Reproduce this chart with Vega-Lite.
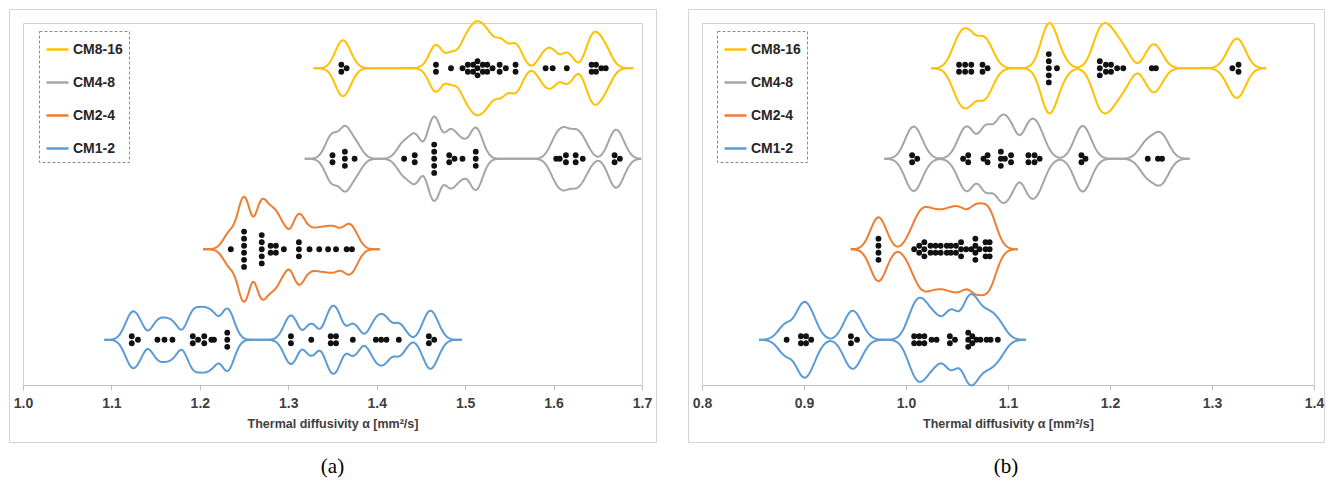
{
  "$schema": "https://vega.github.io/schema/vega-lite/v6.json",
  "padding": {"left": 8, "top": 8, "right": 0, "bottom": 0},
  "background": "white",
  "spacing": 30,
  "config": {
    "view": {"stroke": "#d4d4d4", "strokeWidth": 1},
    "font": "Liberation Sans",
    "legend": {"strokeDash": [3, 2], "strokeWidth": 1}
  },
  "resolve": {"scale": {"color": "independent", "yOffset": "independent", "x": "independent", "y": "independent"}, "legend": {"color": "independent"}},
  "hconcat": [
    {
      "width": 647,
      "height": 433,
      "title": {"text": "(a)", "orient": "bottom", "font": "Liberation Serif", "fontSize": 21, "fontWeight": "normal", "color": "#000000", "offset": 14},
      "data": {"values": [
        {"g":"CM8-16","v":1.360},{"g":"CM8-16","v":1.360},{"g":"CM8-16","v":1.366},
        {"g":"CM8-16","v":1.467},{"g":"CM8-16","v":1.467},{"g":"CM8-16","v":1.484},{"g":"CM8-16","v":1.497},{"g":"CM8-16","v":1.503},{"g":"CM8-16","v":1.503},{"g":"CM8-16","v":1.509},{"g":"CM8-16","v":1.509},{"g":"CM8-16","v":1.514},{"g":"CM8-16","v":1.514},{"g":"CM8-16","v":1.514},{"g":"CM8-16","v":1.520},{"g":"CM8-16","v":1.520},{"g":"CM8-16","v":1.525},{"g":"CM8-16","v":1.525},{"g":"CM8-16","v":1.531},{"g":"CM8-16","v":1.539},{"g":"CM8-16","v":1.539},{"g":"CM8-16","v":1.546},{"g":"CM8-16","v":1.557},{"g":"CM8-16","v":1.557},
        {"g":"CM8-16","v":1.591},{"g":"CM8-16","v":1.599},{"g":"CM8-16","v":1.615},
        {"g":"CM8-16","v":1.643},{"g":"CM8-16","v":1.643},{"g":"CM8-16","v":1.648},{"g":"CM8-16","v":1.648},{"g":"CM8-16","v":1.654},{"g":"CM8-16","v":1.659},
        {"g":"CM4-8","v":1.350},{"g":"CM4-8","v":1.350},{"g":"CM4-8","v":1.364},{"g":"CM4-8","v":1.364},{"g":"CM4-8","v":1.364},{"g":"CM4-8","v":1.375},
        {"g":"CM4-8","v":1.431},{"g":"CM4-8","v":1.443},{"g":"CM4-8","v":1.443},{"g":"CM4-8","v":1.465},{"g":"CM4-8","v":1.465},{"g":"CM4-8","v":1.465},{"g":"CM4-8","v":1.465},{"g":"CM4-8","v":1.465},{"g":"CM4-8","v":1.482},{"g":"CM4-8","v":1.482},{"g":"CM4-8","v":1.488},{"g":"CM4-8","v":1.497},{"g":"CM4-8","v":1.512},{"g":"CM4-8","v":1.512},{"g":"CM4-8","v":1.512},
        {"g":"CM4-8","v":1.603},{"g":"CM4-8","v":1.607},{"g":"CM4-8","v":1.614},{"g":"CM4-8","v":1.614},{"g":"CM4-8","v":1.625},{"g":"CM4-8","v":1.625},{"g":"CM4-8","v":1.633},
        {"g":"CM4-8","v":1.669},{"g":"CM4-8","v":1.669},{"g":"CM4-8","v":1.675},
        {"g":"CM2-4","v":1.235},{"g":"CM2-4","v":1.250},{"g":"CM2-4","v":1.250},{"g":"CM2-4","v":1.250},{"g":"CM2-4","v":1.250},{"g":"CM2-4","v":1.250},{"g":"CM2-4","v":1.250},
        {"g":"CM2-4","v":1.270},{"g":"CM2-4","v":1.270},{"g":"CM2-4","v":1.270},{"g":"CM2-4","v":1.270},{"g":"CM2-4","v":1.270},{"g":"CM2-4","v":1.280},{"g":"CM2-4","v":1.280},{"g":"CM2-4","v":1.286},{"g":"CM2-4","v":1.286},{"g":"CM2-4","v":1.295},
        {"g":"CM2-4","v":1.312},{"g":"CM2-4","v":1.312},{"g":"CM2-4","v":1.312},{"g":"CM2-4","v":1.324},{"g":"CM2-4","v":1.335},{"g":"CM2-4","v":1.345},{"g":"CM2-4","v":1.354},{"g":"CM2-4","v":1.366},{"g":"CM2-4","v":1.372},
        {"g":"CM1-2","v":1.123},{"g":"CM1-2","v":1.123},{"g":"CM1-2","v":1.130},{"g":"CM1-2","v":1.152},{"g":"CM1-2","v":1.160},{"g":"CM1-2","v":1.169},
        {"g":"CM1-2","v":1.192},{"g":"CM1-2","v":1.192},{"g":"CM1-2","v":1.198},{"g":"CM1-2","v":1.205},{"g":"CM1-2","v":1.205},{"g":"CM1-2","v":1.213},{"g":"CM1-2","v":1.216},{"g":"CM1-2","v":1.231},{"g":"CM1-2","v":1.231},{"g":"CM1-2","v":1.231},
        {"g":"CM1-2","v":1.303},{"g":"CM1-2","v":1.303},{"g":"CM1-2","v":1.326},{"g":"CM1-2","v":1.348},{"g":"CM1-2","v":1.348},{"g":"CM1-2","v":1.354},{"g":"CM1-2","v":1.354},{"g":"CM1-2","v":1.373},
        {"g":"CM1-2","v":1.399},{"g":"CM1-2","v":1.405},{"g":"CM1-2","v":1.411},{"g":"CM1-2","v":1.425},
        {"g":"CM1-2","v":1.459},{"g":"CM1-2","v":1.459},{"g":"CM1-2","v":1.465}
      ]},
      "resolve": {"scale": {"yOffset": "independent"}, "axis": {"x": "independent", "y": "independent"}},
      "layer": [
        {
          "transform": [
            {"joinaggregate": [{"op": "min", "field": "v", "as": "lo"}, {"op": "max", "field": "v", "as": "hi"}], "groupby": ["g"]},
            {"density": "v", "groupby": ["g", "lo", "hi"], "bandwidth": 0.006, "extent": [0.98, 1.72], "steps": 741},
            {"filter": "datum.value >= datum.lo - 0.032 && datum.value <= datum.hi + 0.032 && datum.value <= 1.7"}
          ],
          "mark": {"type": "line", "strokeWidth": 2},
          "encoding": {
            "x": {"field": "value", "type": "quantitative",
              "scale": {"domain": [1.0, 1.7], "range": [14, 633], "nice": false, "zero": false},
              "axis": {"orient": "bottom", "offset": -57, "values": [1.0, 1.1, 1.2, 1.3, 1.4, 1.5, 1.6, 1.7], "format": ".1f",
                "domainColor": "#bfbfbf", "tickColor": "#bfbfbf", "tickSize": 5, "grid": false,
                "labelFont": "Liberation Sans", "labelFontSize": 14, "labelFontWeight": "bold", "labelColor": "#404040", "labelPadding": 6, "labelOverlap": false, "labelFlush": false,
                "title": "Thermal diffusivity α [mm²/s]", "titleFont": "Liberation Sans", "titleFontSize": 12.5, "titleFontWeight": "bold", "titleColor": "#404040", "titlePadding": 7}},
            "y": {"field": "g", "type": "nominal",
              "scale": {"type": "band", "domain": ["CM8-16", "CM4-8", "CM2-4", "CM1-2"], "range": [14, 376], "paddingInner": 0, "paddingOuter": 0},
              "axis": {"orient": "left", "offset": -14, "labels": false, "ticks": false, "title": null, "grid": false, "domainColor": "#d0d0d0"}},
            "yOffset": {"field": "density", "type": "quantitative", "scale": {"type": "pow", "exponent": 0.6, "domain": [-12.1, 12.1], "nice": false, "zero": false}},
            "color": {"field": "g", "type": "nominal",
              "scale": {"domain": ["CM8-16", "CM4-8", "CM2-4", "CM1-2"], "range": ["#FFC000", "#A5A5A5", "#ED7D31", "#5B9BD5"]},
              "legend": {"title": null, "orient": "none", "legendX": 30, "legendY": 22, "symbolType": "stroke", "symbolStrokeWidth": 2.5, "symbolSize": 484,
                "labelFont": "Liberation Sans", "labelFontSize": 14, "labelFontWeight": "bold", "labelColor": "#262626", "labelOffset": 3,
                "rowPadding": 13, "padding": 6, "strokeColor": "#8c8c8c", "fillColor": "white"}},
            "order": {"field": "value", "type": "quantitative"}
          }
        },
        {
          "transform": [
            {"joinaggregate": [{"op": "min", "field": "v", "as": "lo"}, {"op": "max", "field": "v", "as": "hi"}], "groupby": ["g"]},
            {"density": "v", "groupby": ["g", "lo", "hi"], "bandwidth": 0.006, "extent": [0.98, 1.72], "steps": 741},
            {"filter": "datum.value >= datum.lo - 0.032 && datum.value <= datum.hi + 0.032 && datum.value <= 1.7"}
          ],
          "mark": {"type": "line", "strokeWidth": 2},
          "encoding": {
            "x": {"field": "value", "type": "quantitative",
              "axis": {"orient": "top", "offset": -14, "labels": false, "ticks": false, "title": null, "grid": false, "domainColor": "#d0d0d0"}},
            "y": {"field": "g", "type": "nominal",
              "axis": {"orient": "right", "offset": -14, "labels": false, "ticks": false, "title": null, "grid": false, "domainColor": "#d0d0d0"}},
            "yOffset": {"field": "density", "type": "quantitative", "scale": {"type": "pow", "exponent": 0.6, "domain": [-12.1, 12.1], "reverse": true, "nice": false, "zero": false}},
            "color": {"field": "g", "type": "nominal"},
            "order": {"field": "value", "type": "quantitative"}
          }
        },
        {
          "transform": [
            {"window": [{"op": "count", "as": "one"}], "frame": [0, 0]},
            {"stack": "one", "groupby": ["g", "v"], "offset": "center", "as": ["s0", "s1"]}
          ],
          "mark": {"type": "circle", "size": 34, "color": "#111111", "opacity": 1},
          "encoding": {
            "x": {"field": "v", "type": "quantitative", "axis": null},
            "y": {"field": "g", "type": "nominal", "axis": null},
            "yOffset": {"field": "s1", "type": "quantitative", "scale": {"domain": [-2.9, 9.9], "nice": false, "zero": false}}
          }
        }
      ]
    },
    {
      "width": 636,
      "height": 433,
      "title": {"text": "(b)", "orient": "bottom", "font": "Liberation Serif", "fontSize": 21, "fontWeight": "normal", "color": "#000000", "offset": 14},
      "data": {"values": [
        {"g":"CM8-16","v":1.052},{"g":"CM8-16","v":1.052},{"g":"CM8-16","v":1.058},{"g":"CM8-16","v":1.058},{"g":"CM8-16","v":1.064},{"g":"CM8-16","v":1.064},{"g":"CM8-16","v":1.075},{"g":"CM8-16","v":1.075},{"g":"CM8-16","v":1.080},
        {"g":"CM8-16","v":1.140},{"g":"CM8-16","v":1.140},{"g":"CM8-16","v":1.140},{"g":"CM8-16","v":1.140},{"g":"CM8-16","v":1.140},{"g":"CM8-16","v":1.148},
        {"g":"CM8-16","v":1.190},{"g":"CM8-16","v":1.190},{"g":"CM8-16","v":1.190},{"g":"CM8-16","v":1.196},{"g":"CM8-16","v":1.196},{"g":"CM8-16","v":1.201},{"g":"CM8-16","v":1.201},{"g":"CM8-16","v":1.207},{"g":"CM8-16","v":1.213},
        {"g":"CM8-16","v":1.241},{"g":"CM8-16","v":1.245},
        {"g":"CM8-16","v":1.320},{"g":"CM8-16","v":1.326},{"g":"CM8-16","v":1.326},
        {"g":"CM4-8","v":1.006},{"g":"CM4-8","v":1.006},{"g":"CM4-8","v":1.011},
        {"g":"CM4-8","v":1.056},{"g":"CM4-8","v":1.061},{"g":"CM4-8","v":1.061},{"g":"CM4-8","v":1.076},{"g":"CM4-8","v":1.080},{"g":"CM4-8","v":1.080},{"g":"CM4-8","v":1.093},{"g":"CM4-8","v":1.093},{"g":"CM4-8","v":1.093},{"g":"CM4-8","v":1.097},{"g":"CM4-8","v":1.103},{"g":"CM4-8","v":1.103},{"g":"CM4-8","v":1.120},{"g":"CM4-8","v":1.120},{"g":"CM4-8","v":1.126},{"g":"CM4-8","v":1.126},{"g":"CM4-8","v":1.131},
        {"g":"CM4-8","v":1.172},{"g":"CM4-8","v":1.172},{"g":"CM4-8","v":1.176},
        {"g":"CM4-8","v":1.237},{"g":"CM4-8","v":1.247},{"g":"CM4-8","v":1.251},
        {"g":"CM2-4","v":0.973},{"g":"CM2-4","v":0.973},{"g":"CM2-4","v":0.973},{"g":"CM2-4","v":0.973},
        {"g":"CM2-4","v":1.008},{"g":"CM2-4","v":1.013},{"g":"CM2-4","v":1.013},{"g":"CM2-4","v":1.018},{"g":"CM2-4","v":1.018},{"g":"CM2-4","v":1.018},{"g":"CM2-4","v":1.024},{"g":"CM2-4","v":1.024},{"g":"CM2-4","v":1.029},{"g":"CM2-4","v":1.029},{"g":"CM2-4","v":1.034},{"g":"CM2-4","v":1.034},{"g":"CM2-4","v":1.040},{"g":"CM2-4","v":1.040},{"g":"CM2-4","v":1.044},{"g":"CM2-4","v":1.044},{"g":"CM2-4","v":1.049},{"g":"CM2-4","v":1.049},
        {"g":"CM2-4","v":1.054},{"g":"CM2-4","v":1.054},{"g":"CM2-4","v":1.054},{"g":"CM2-4","v":1.059},{"g":"CM2-4","v":1.064},{"g":"CM2-4","v":1.068},{"g":"CM2-4","v":1.068},{"g":"CM2-4","v":1.068},{"g":"CM2-4","v":1.068},{"g":"CM2-4","v":1.072},{"g":"CM2-4","v":1.078},{"g":"CM2-4","v":1.078},{"g":"CM2-4","v":1.078},{"g":"CM2-4","v":1.082},{"g":"CM2-4","v":1.082},{"g":"CM2-4","v":1.082},
        {"g":"CM1-2","v":0.883},{"g":"CM1-2","v":0.897},{"g":"CM1-2","v":0.897},{"g":"CM1-2","v":0.902},{"g":"CM1-2","v":0.902},{"g":"CM1-2","v":0.907},
        {"g":"CM1-2","v":0.946},{"g":"CM1-2","v":0.946},{"g":"CM1-2","v":0.952},
        {"g":"CM1-2","v":1.008},{"g":"CM1-2","v":1.008},{"g":"CM1-2","v":1.013},{"g":"CM1-2","v":1.013},{"g":"CM1-2","v":1.018},{"g":"CM1-2","v":1.018},{"g":"CM1-2","v":1.025},{"g":"CM1-2","v":1.030},{"g":"CM1-2","v":1.043},{"g":"CM1-2","v":1.043},{"g":"CM1-2","v":1.048},
        {"g":"CM1-2","v":1.061},{"g":"CM1-2","v":1.061},{"g":"CM1-2","v":1.061},{"g":"CM1-2","v":1.065},{"g":"CM1-2","v":1.065},{"g":"CM1-2","v":1.069},{"g":"CM1-2","v":1.073},{"g":"CM1-2","v":1.079},{"g":"CM1-2","v":1.083},{"g":"CM1-2","v":1.090}
      ]},
      "resolve": {"scale": {"yOffset": "independent"}, "axis": {"x": "independent", "y": "independent"}},
      "layer": [
        {
          "transform": [
            {"joinaggregate": [{"op": "min", "field": "v", "as": "lo"}, {"op": "max", "field": "v", "as": "hi"}], "groupby": ["g"]},
            {"density": "v", "groupby": ["g", "lo", "hi"], "bandwidth": 0.006, "extent": [0.78, 1.41], "steps": 631},
            {"filter": "datum.value >= datum.lo - 0.028 && datum.value <= datum.hi + 0.028"}
          ],
          "mark": {"type": "line", "strokeWidth": 2},
          "encoding": {
            "x": {"field": "value", "type": "quantitative",
              "scale": {"domain": [0.8, 1.4], "range": [14, 626], "nice": false, "zero": false},
              "axis": {"orient": "bottom", "offset": -57, "values": [0.8, 0.9, 1.0, 1.1, 1.2, 1.3, 1.4], "format": ".1f",
                "domainColor": "#bfbfbf", "tickColor": "#bfbfbf", "tickSize": 5, "grid": false,
                "labelFont": "Liberation Sans", "labelFontSize": 14, "labelFontWeight": "bold", "labelColor": "#404040", "labelPadding": 6, "labelOverlap": false, "labelFlush": false,
                "title": "Thermal diffusivity α [mm²/s]", "titleFont": "Liberation Sans", "titleFontSize": 12.5, "titleFontWeight": "bold", "titleColor": "#404040", "titlePadding": 7}},
            "y": {"field": "g", "type": "nominal",
              "scale": {"type": "band", "domain": ["CM8-16", "CM4-8", "CM2-4", "CM1-2"], "range": [14, 376], "paddingInner": 0, "paddingOuter": 0},
              "axis": {"orient": "left", "offset": -14, "labels": false, "ticks": false, "title": null, "grid": false, "domainColor": "#d0d0d0"}},
            "yOffset": {"field": "density", "type": "quantitative", "scale": {"type": "pow", "exponent": 0.6, "domain": [-12.5, 12.5], "nice": false, "zero": false}},
            "color": {"field": "g", "type": "nominal",
              "scale": {"domain": ["CM8-16", "CM4-8", "CM2-4", "CM1-2"], "range": ["#FFC000", "#A5A5A5", "#ED7D31", "#5B9BD5"]},
              "legend": {"title": null, "orient": "none", "legendX": 29, "legendY": 22, "symbolType": "stroke", "symbolStrokeWidth": 2.5, "symbolSize": 484,
                "labelFont": "Liberation Sans", "labelFontSize": 14, "labelFontWeight": "bold", "labelColor": "#262626", "labelOffset": 3,
                "rowPadding": 13, "padding": 6, "strokeColor": "#8c8c8c", "fillColor": "white"}},
            "order": {"field": "value", "type": "quantitative"}
          }
        },
        {
          "transform": [
            {"joinaggregate": [{"op": "min", "field": "v", "as": "lo"}, {"op": "max", "field": "v", "as": "hi"}], "groupby": ["g"]},
            {"density": "v", "groupby": ["g", "lo", "hi"], "bandwidth": 0.006, "extent": [0.78, 1.41], "steps": 631},
            {"filter": "datum.value >= datum.lo - 0.028 && datum.value <= datum.hi + 0.028"}
          ],
          "mark": {"type": "line", "strokeWidth": 2},
          "encoding": {
            "x": {"field": "value", "type": "quantitative",
              "axis": {"orient": "top", "offset": -14, "labels": false, "ticks": false, "title": null, "grid": false, "domainColor": "#d0d0d0"}},
            "y": {"field": "g", "type": "nominal",
              "axis": {"orient": "right", "offset": -10, "labels": false, "ticks": false, "title": null, "grid": false, "domainColor": "#d0d0d0"}},
            "yOffset": {"field": "density", "type": "quantitative", "scale": {"type": "pow", "exponent": 0.6, "domain": [-12.5, 12.5], "reverse": true, "nice": false, "zero": false}},
            "color": {"field": "g", "type": "nominal"},
            "order": {"field": "value", "type": "quantitative"}
          }
        },
        {
          "transform": [
            {"window": [{"op": "count", "as": "one"}], "frame": [0, 0]},
            {"stack": "one", "groupby": ["g", "v"], "offset": "center", "as": ["s0", "s1"]}
          ],
          "mark": {"type": "circle", "size": 34, "color": "#111111", "opacity": 1},
          "encoding": {
            "x": {"field": "v", "type": "quantitative", "axis": null},
            "y": {"field": "g", "type": "nominal", "axis": null},
            "yOffset": {"field": "s1", "type": "quantitative", "scale": {"domain": [-3.4, 9.4], "nice": false, "zero": false}}
          }
        }
      ]
    }
  ]
}
